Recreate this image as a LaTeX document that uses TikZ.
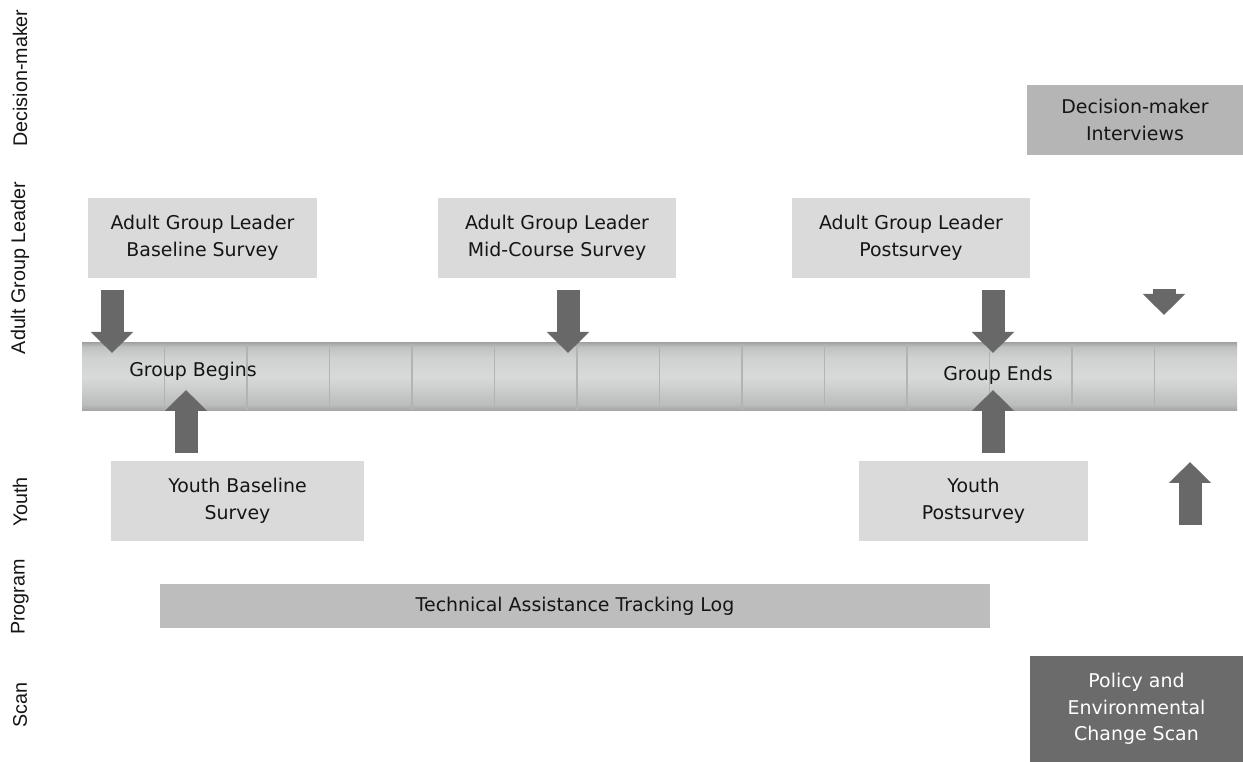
\documentclass[tikz,border=0pt]{standalone}
\usepackage{fontspec}
\setmainfont{DejaVu Sans}
\newfontfamily\labelfont{Liberation Sans}
\usetikzlibrary{arrows.meta}
\definecolor{boxlight}{HTML}{DADADA}
\definecolor{boxmid}{HTML}{B5B5B5}
\definecolor{boxlog}{HTML}{BDBDBD}
\definecolor{boxdark}{HTML}{6B6B6B}
\definecolor{arrowgray}{HTML}{686868}
\definecolor{txt}{HTML}{151515}
\definecolor{tubeA}{HTML}{A2A2A2}
\definecolor{tubeB}{HTML}{BCBEBE}
\definecolor{tubeC}{HTML}{D8DADA}
\definecolor{tubeD}{HTML}{D0D2D2}
\definecolor{tubeE}{HTML}{C0C2C2}
\definecolor{tubeF}{HTML}{A6A6A6}
\definecolor{divider}{HTML}{B2B4B4}
\pgfdeclareverticalshading{tube}{100bp}{color(0bp)=(tubeA); color(25bp)=(tubeA); color(30bp)=(tubeB); color(50bp)=(tubeC); color(64bp)=(tubeD); color(72bp)=(tubeE); color(75bp)=(tubeF); color(100bp)=(tubeF)}
\tikzset{
  boxtext/.style={align=center, text=txt, font=\fontsize{14.2}{20}\selectfont, inner sep=0pt},
  lightbox/.style={boxtext, fill=boxlight, minimum height=60pt},
  sidelabel/.style={rotate=90, text=txt, font=\labelfont\fontsize{14.8}{16}\selectfont, inner sep=0pt},
  blockarrow/.style={draw=arrowgray, line width=17.25pt, -{Triangle[width=30.75pt,length=15.75pt]}},
}
\begin{document}
\begin{tikzpicture}[x=0.75pt,y=-0.75pt]
\useasboundingbox (0,0) rectangle (1243,762);
\fill[white] (0,0) rectangle (1243,762);

% side labels
\node[sidelabel] (lbldm) at (20,78) {Decision-maker};
\node[sidelabel] (lblagl) at (20,268) {Adult Group Leader};
\node[sidelabel] (lbly) at (20,502) {Youth};
\node[sidelabel] (lblp) at (20,597) {Program};
\node[sidelabel] (lbls) at (20,705) {Scan};

% timeline
\node[shading=tube, minimum width=866.25pt, minimum height=51pt, inner sep=0pt] (tl) at (659.5,377) {};
\foreach \i in {1,...,13} {
  \draw[divider, line width=0.8pt] (82+82.5*\i,344) -- (82+82.5*\i,410);
}
\node[boxtext] (gb) at (193,371) {Group Begins};
\node[boxtext] (ge) at (998,375) {Group Ends};

% boxes
\node[lightbox, minimum width=171.75pt] (agl1) at (202.5,238) {Adult Group Leader\\Baseline Survey};
\node[lightbox, minimum width=178.5pt] (agl2) at (557,238) {Adult Group Leader\\Mid-Course Survey};
\node[lightbox, minimum width=178.5pt] (agl3) at (911,238) {Adult Group Leader\\Postsurvey};
\node[boxtext, fill=boxmid, minimum width=162pt, minimum height=52.5pt] (dm) at (1135,120) {Decision-maker\\Interviews};
\node[lightbox, minimum width=189.75pt] (yb) at (237.5,501) {Youth Baseline\\Survey};
\node[lightbox, minimum width=171.75pt] (yp) at (973.5,501) {Youth\\Postsurvey};
\node[boxtext, fill=boxlog, minimum width=622.5pt, minimum height=33pt] (tal) at (575,606) {Technical Assistance Tracking Log};
\node[boxtext, fill=boxdark, text=white, minimum width=159.75pt, minimum height=79.5pt] (pec) at (1136.5,709) {Policy and\\Environmental\\Change Scan};

% arrow end points
\coordinate (d1s) at (112,290); \coordinate (d1e) at (112,353);
\coordinate (d2s) at (568,290); \coordinate (d2e) at (568,353);
\coordinate (d3s) at (993,290); \coordinate (d3e) at (993,353);
\coordinate (d4s) at (1164,289); \coordinate (d4e) at (1164,315);
\coordinate (u1s) at (186,453); \coordinate (u1e) at (186,390);
\coordinate (u2s) at (993,453); \coordinate (u2e) at (993,390);
\coordinate (u3s) at (1190,525); \coordinate (u3e) at (1190,462);

\draw[blockarrow] (d1s) -- (d1e);
\draw[blockarrow] (d2s) -- (d2e);
\draw[blockarrow] (d3s) -- (d3e);
\draw[blockarrow] (d4s) -- (d4e);
\draw[blockarrow] (u1s) -- (u1e);
\draw[blockarrow] (u2s) -- (u2e);
\draw[blockarrow] (u3s) -- (u3e);
\end{tikzpicture}
\end{document}
